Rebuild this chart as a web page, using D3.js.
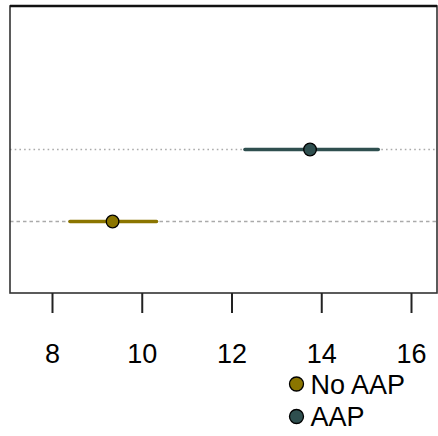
<!DOCTYPE html>
<html>
<head>
<meta charset="utf-8">
<script src="https://d3js.org/d3.v7.min.js"></script>
<style>
  body { margin: 0; background: #fff; }
  text { font-family: "Liberation Sans", Arial, sans-serif; }
</style>
</head>
<body>
<div id="chart"></div>
<script>
  "use strict"

  // dados
  var grupos = ["No AAP", "AAP"];
  var estimativas = [9.35, 13.75];
  var limInf = [8.4, 12.3];
  var limSup = [10.33, 15.27];
  var cores = ["#8b7500", "#2f4f4f"];
  var ticksX = [8, 10, 12, 14, 16];

  var larguraSVG = 438, alturaSVG = 436;
  var box = {left: 10, top: 6, right: 437, bottom: 293};

  var svg = d3.select("#chart").append("svg")
    .attr("width", larguraSVG)
    .attr("height", alturaSVG);

  var x = d3.scaleLinear().domain([8, 16]).range([52, 411]);
  var y = d3.scalePoint().domain(grupos).range([221.5, 149.5]);

  // linhas de referencia
  svg.selectAll("line.ref")
    .data(grupos)
    .enter().append("line")
      .attr("x1", box.left).attr("x2", box.right)
      .attr("y1", d => y(d)).attr("y2", d => y(d))
      .attr("stroke", "#aaa")
      .attr("stroke-width", 1.5)
      .attr("stroke-dasharray", (d, i) => i === 0 ? "3.5,3" : "1.6,3.1");

  // intervalos
  svg.selectAll("line.ci")
    .data(grupos)
    .enter().append("line")
      .attr("x1", (d, i) => x(limInf[i]))
      .attr("x2", (d, i) => x(limSup[i]))
      .attr("y1", d => y(d)).attr("y2", d => y(d))
      .attr("stroke", (d, i) => cores[i])
      .attr("stroke-width", 3.5)
      .attr("stroke-linecap", "round");

  svg.selectAll("circle.pt")
    .data(grupos)
    .enter().append("circle")
      .attr("cx", (d, i) => x(estimativas[i]))
      .attr("cy", d => y(d))
      .attr("r", 6.3)
      .attr("fill", (d, i) => cores[i])
      .attr("stroke", "#000")
      .attr("stroke-width", 1.3);

  // caixa
  svg.append("rect")
    .attr("x", box.left).attr("y", box.top)
    .attr("width", box.right - box.left)
    .attr("height", box.bottom - box.top)
    .attr("fill", "none")
    .attr("stroke", "#333")
    .attr("stroke-width", 1.6);
  svg.append("line")
    .attr("x1", box.left).attr("x2", box.right)
    .attr("y1", box.top).attr("y2", box.top)
    .attr("stroke", "#111").attr("stroke-width", 2.5);

  // eixo x
  var eixo = svg.append("g")
    .attr("transform", "translate(0," + box.bottom + ")")
    .call(d3.axisBottom(x).tickValues(ticksX).tickSize(20).tickPadding(31));
  eixo.select(".domain").remove();
  eixo.selectAll(".tick line").attr("stroke", "#222").attr("stroke-width", 2);
  eixo.selectAll(".tick text")
    .attr("font-size", 27)
    .attr("fill", "#000")
    .style("font-family", "Liberation Sans, Arial, sans-serif");

  // legenda
  var leg = svg.selectAll("g.leg")
    .data(grupos)
    .enter().append("g")
      .attr("transform", (d, i) => "translate(296.5," + (384 + i * 32.5) + ")");
  leg.append("circle")
    .attr("r", 7)
    .attr("fill", (d, i) => cores[i])
    .attr("stroke", "#000")
    .attr("stroke-width", 1.3);
  leg.append("text")
    .attr("x", 14)
    .attr("dy", "0.36em")
    .attr("font-size", 27)
    .text(d => d);
</script>
</body>
</html>
